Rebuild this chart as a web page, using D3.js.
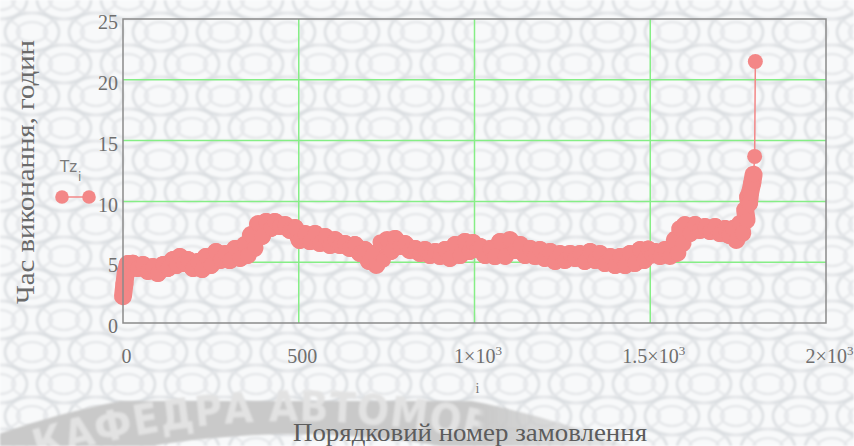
<!DOCTYPE html>
<html>
<head>
<meta charset="utf-8">
<script src="https://cdn.jsdelivr.net/npm/d3@7"></script>
<style>
  html, body { margin: 0; padding: 0; background: #fff; }
  svg { display: block; }
</style>
</head>
<body>
<svg id="chart" width="854" height="446"></svg>
<script>
// Order number (i) and execution time Tz_i, hours
const orderNo = [
  0, 4, 8,
  14, 20, 28, 42, 57, 71, 85, 99, 114, 128, 142, 152, 162, 173, 185, 199, 213, 225,
  236, 250, 265, 277, 290, 304, 319, 333, 347, 355, 364, 374, 384, 395, 407, 420,
  432, 446, 461, 475, 489, 503, 518, 532, 546, 560, 575, 589, 603, 617, 631, 645,
  660, 674, 688, 700, 711, 721, 731, 741, 751, 762, 774, 788, 802, 816, 831, 845,
  859, 873, 888, 902, 916, 930, 945, 959, 973, 985, 996, 1006, 1016, 1030, 1044, 1058,
  1073, 1087, 1101, 1115, 1130, 1144, 1158, 1172, 1186, 1200, 1215, 1229, 1243, 1257,
  1272, 1286, 1300, 1314, 1329, 1343, 1357, 1371, 1386, 1400, 1414, 1428, 1442, 1456,
  1471, 1482, 1494, 1504, 1514, 1528, 1542, 1556, 1570, 1577, 1585, 1592, 1599, 1613,
  1627, 1641, 1656, 1670, 1684, 1698, 1713, 1724, 1735, 1745, 1755, 1762, 1770, 1774,
  1778, 1781, 1784, 1790, 1794, 1797, 1799
];
const tz = [
  2.2, 3.2, 4.2,
  4.85, 4.44, 4.88, 4.52, 4.77, 4.28, 4.61, 4.11, 4.77, 4.52, 5.18, 4.77, 5.43, 4.93, 5.18, 4.52, 5.02, 4.44,
  5.43, 4.77, 5.84, 5.18, 5.67, 5.18, 6.09, 5.35, 6.41, 5.59, 7.24, 6.17, 8.14, 7.15, 8.31, 7.81,
  8.31, 7.98, 8.06, 7.65, 7.81, 6.83, 7.32, 6.74, 7.32, 6.58, 7.07, 6.41, 6.83, 6.41, 6.50, 6.17,
  6.41, 5.76, 6.00, 5.10, 5.67, 4.77, 6.66, 5.18, 6.83, 5.92, 6.91, 6.33, 6.50, 6.00, 6.09, 5.76,
  6.00, 5.59, 5.84, 5.51, 6.00, 5.35, 6.41, 5.59, 6.66, 5.92, 6.58, 6.09, 6.25, 5.59, 6.09, 5.51,
  6.66, 5.51, 6.83, 6.00, 6.41, 5.59, 6.09, 5.51, 6.00, 5.35, 5.84, 5.10, 5.67, 5.18,
  5.67, 5.35, 5.67, 5.10, 5.84, 5.18, 5.67, 4.93, 5.43, 4.77, 5.43, 4.77, 5.67, 4.93,
  6.00, 5.18, 6.04, 5.63, 5.84, 5.51, 6.00, 5.51, 6.83, 5.76, 7.73, 6.58, 8.06, 7.40,
  8.06, 7.65, 7.89, 7.57, 7.89, 7.40, 7.73, 7.24, 7.73, 6.83, 8.14, 7.40, 9.29, 8.47,
  10.36, 9.87, 10.7, 11.5, 12.2, 13.7, 21.5
];

const xTicks = [0, 500, 1000, 1500, 2000];
const xTickText = [["0", ""], ["500", ""], ["1\u00d710", "3"], ["1.5\u00d710", "3"], ["2\u00d710", "3"]];
const yTicks = [0, 5, 10, 15, 20, 25];

const xTitle = "Порядковий номер замовлення";
const yTitle = "Час виконання, годин";
const seriesName = "Tz";
const stampText = "КАФЕДРА АВТОМОБІЛЬНОГО ТРАНСПОРТУ";

const W = 854, H = 446;
const plot = { left: 123, right: 826, top: 19, bottom: 323 };
const markColor = "#f38787";
const markR = 7.5;
const gridColor = "#86ee86";
const serif = "'Liberation Serif', 'Times New Roman', serif";

const svg = d3.select("#chart");
const defs = svg.append("defs");

// ---- decorative lattice background ----
const pat = defs.append("pattern")
  .attr("id", "lattice").attr("patternUnits", "userSpaceOnUse")
  .attr("width", 64).attr("height", 64);
pat.append("rect").attr("width", 64).attr("height", 64).attr("fill", "#f8f9fa");
const ovalCentres = [[0, 0], [64, 0], [0, 64], [64, 64], [32, 32]];
ovalCentres.forEach(([cx, cy]) => {
  pat.append("ellipse").attr("cx", cx).attr("cy", cy).attr("rx", 27).attr("ry", 19)
    .attr("fill", "none").attr("stroke", "#dcdfe2").attr("stroke-width", 2.6);
  pat.append("ellipse").attr("cx", cx).attr("cy", cy).attr("rx", 15).attr("ry", 10)
    .attr("fill", "none").attr("stroke", "#e3e5e8").attr("stroke-width", 2.2);
});
[[32, 0], [0, 32], [64, 32], [32, 64]].forEach(([cx, cy]) => {
  pat.append("ellipse").attr("cx", cx).attr("cy", cy).attr("rx", 20).attr("ry", 13)
    .attr("fill", "none").attr("stroke", "#e4e6e9").attr("stroke-width", 2);
});
defs.append("filter").attr("id", "soft")
  .append("feGaussianBlur").attr("stdDeviation", 0.8);

svg.append("rect").attr("width", W).attr("height", H).attr("fill", "#ffffff");
svg.append("rect").attr("width", W).attr("height", H)
  .attr("fill", "url(#lattice)").attr("filter", "url(#soft)");

// ---- faded stamp arc at the bottom ----
const arcC = { x: 296, y: 1293 };
function arcPath(r) {
  const a0 = -0.42, a1 = 0.42;
  const p0 = [arcC.x + r * Math.sin(a0), arcC.y - r * Math.cos(a0)];
  const p1 = [arcC.x + r * Math.sin(a1), arcC.y - r * Math.cos(a1)];
  return `M${p0[0]},${p0[1]} A${r},${r} 0 0 1 ${p1[0]},${p1[1]}`;
}
function fadeMask(id, from, to) {
  const g = defs.append("linearGradient").attr("id", id + "Grad")
    .attr("gradientUnits", "userSpaceOnUse").attr("x1", 0).attr("x2", W).attr("y1", 0).attr("y2", 0);
  g.append("stop").attr("offset", 0).attr("stop-color", "#fff").attr("stop-opacity", 1);
  g.append("stop").attr("offset", from / W).attr("stop-color", "#fff").attr("stop-opacity", 1);
  g.append("stop").attr("offset", to / W).attr("stop-color", "#fff").attr("stop-opacity", 0);
  defs.append("mask").attr("id", id)
    .append("rect").attr("width", W).attr("height", H).attr("fill", `url(#${id}Grad)`);
}
fadeMask("bandMask", 480, 690);
fadeMask("wordMask", 477, 485);
defs.append("path").attr("id", "stampLine").attr("d", arcPath(872));

const stamp = svg.append("g").attr("filter", "url(#soft)");
stamp.append("path").attr("d", arcPath(884)).attr("fill", "none")
  .attr("mask", "url(#bandMask)")
  .attr("stroke", "#c9c9c9").attr("stroke-width", 50);
stamp.append("text").attr("mask", "url(#wordMask)")
  .attr("font-family", "'DejaVu Sans Condensed', 'DejaVu Sans', sans-serif").attr("font-weight", "bold")
  .attr("font-size", 42).attr("letter-spacing", 1).attr("fill", "#e2e2e2")
  .append("textPath").attr("href", "#stampLine").attr("startOffset", 104)
  .text(stampText);

// ---- scales ----
const x = d3.scaleLinear().domain([0, 2000]).range([plot.left, plot.right]);
const y = d3.scaleLinear().domain([0, 25]).range([plot.bottom, plot.top]);

// ---- grid ----
const grid = svg.append("g");
grid.selectAll("line.h").data(yTicks.filter(v => v > 0 && v < 25)).join("line")
  .attr("x1", plot.left).attr("x2", plot.right)
  .attr("y1", d => y(d)).attr("y2", d => y(d))
  .attr("stroke", gridColor).attr("stroke-width", 1.5);
grid.selectAll("line.v").data(xTicks.filter(v => v > 0 && v < 2000)).join("line")
  .attr("x1", d => x(d)).attr("x2", d => x(d))
  .attr("y1", plot.top).attr("y2", plot.bottom)
  .attr("stroke", gridColor).attr("stroke-width", 1.5);

// ---- series: connected markers ----
const pts = orderNo.map((i, k) => ({ i, v: tz[k] }));
// consecutive markers that sit close together merge into one continuous body
const steps = d3.pairs(pts).filter(([a, b]) => Math.abs(b.v - a.v) < 1.2);
svg.append("g").selectAll("line").data(steps).join("line")
  .attr("x1", d => x(d[0].i)).attr("y1", d => y(d[0].v))
  .attr("x2", d => x(d[1].i)).attr("y2", d => y(d[1].v))
  .attr("stroke", markColor).attr("stroke-width", markR * 2 + 3).attr("stroke-linecap", "round");
const line = d3.line().x(d => x(d.i)).y(d => y(d.v));
svg.append("path").datum(pts).attr("d", line)
  .attr("fill", "none").attr("stroke", markColor).attr("stroke-width", 1.5);
svg.append("g").selectAll("circle").data(pts).join("circle")
  .attr("cx", d => x(d.i)).attr("cy", d => y(d.v)).attr("r", markR)
  .attr("fill", markColor);

// ---- frame ----
svg.append("rect")
  .attr("x", plot.left).attr("y", plot.top)
  .attr("width", plot.right - plot.left).attr("height", plot.bottom - plot.top)
  .attr("fill", "none").attr("stroke", "#8a8a8a").attr("stroke-width", 1.5);

// ---- axes built from d3 scales (tick lines hidden, labels styled) ----
const yAxis = d3.axisLeft(y).tickValues(yTicks).tickSize(0).tickPadding(5)
  .tickFormat(d3.format("d"));
const gy = svg.append("g").attr("transform", `translate(${plot.left},0)`).call(yAxis);
gy.select(".domain").remove();
gy.selectAll("text")
  .attr("font-family", serif).attr("font-size", 20).attr("fill", "#6f6f6f")
  .attr("dy", "0.48em");

const xAxis = d3.axisBottom(x).tickValues(xTicks).tickSize(0).tickPadding(0)
  .tickFormat(() => "");
const gx = svg.append("g").attr("transform", `translate(0,${plot.bottom})`).call(xAxis);
gx.select(".domain").remove();
gx.selectAll(".tick text").each(function (d) {
  const k = xTicks.indexOf(d);
  const t = d3.select(this)
    .attr("font-family", serif).attr("font-size", 20).attr("fill", "#6f6f6f")
    .attr("x", 3).attr("y", 40).attr("dy", null);
  t.append("tspan").text(xTickText[k][0]);
  if (xTickText[k][1]) {
    t.append("tspan").attr("font-size", 13).attr("dy", -8).text(xTickText[k][1]);
  }
});

// ---- axis titles ----
svg.append("text").attr("x", (plot.left + plot.right) / 2 + 3).attr("y", 393)
  .attr("text-anchor", "middle").attr("font-family", serif).attr("font-size", 14)
  .attr("fill", "#777").text("i");
svg.append("text").attr("x", 470).attr("y", 441)
  .attr("text-anchor", "middle").attr("font-family", serif).attr("font-size", 26)
  .attr("textLength", 354).attr("lengthAdjust", "spacingAndGlyphs")
  .attr("fill", "#5c5c5c").text(xTitle);
svg.append("text")
  .attr("transform", "translate(34,172) rotate(-90)")
  .attr("text-anchor", "middle").attr("font-family", serif).attr("font-size", 25)
  .attr("textLength", 264).attr("lengthAdjust", "spacingAndGlyphs")
  .attr("fill", "#6a6a6a").text(yTitle);

// ---- legend ----
const lg = svg.append("g");
const lt = lg.append("text").attr("x", 60).attr("y", 172)
  .attr("font-family", "'DejaVu Sans', sans-serif").attr("font-size", 15).attr("fill", "#7a7a7a");
lt.append("tspan").text(seriesName);
lt.append("tspan").attr("font-size", 12).attr("dy", 9).attr("dx", 1).text("i");
lg.append("line").attr("x1", 62).attr("x2", 89).attr("y1", 197).attr("y2", 197)
  .attr("stroke", markColor).attr("stroke-width", 1.5);
lg.selectAll("circle").data([62, 89]).join("circle")
  .attr("cx", d => d).attr("cy", 197).attr("r", 6.8).attr("fill", markColor);
</script>
</body>
</html>
